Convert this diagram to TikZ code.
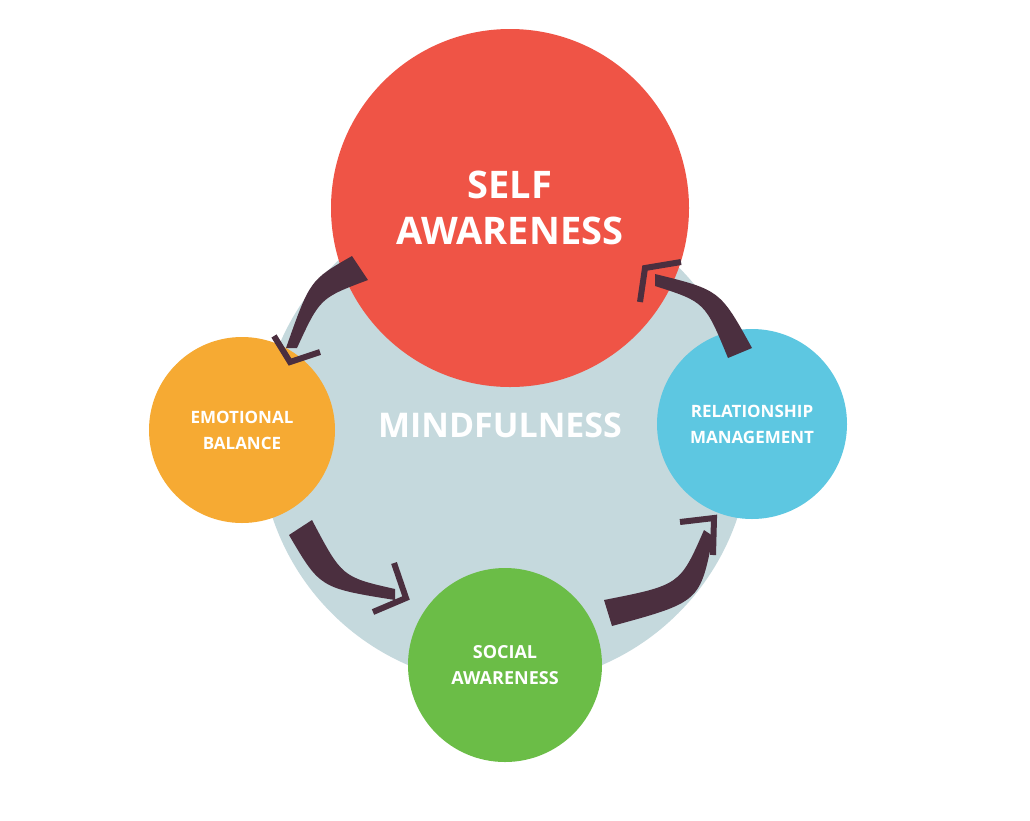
\documentclass[tikz,border=0pt]{standalone}
\usepackage{fontspec}
\setmainfont{Open Sans}
\definecolor{bg}{HTML}{C5D9DD}
\definecolor{cred}{HTML}{EF5446}
\definecolor{corange}{HTML}{F6AA33}
\definecolor{cblue}{HTML}{5DC7E1}
\definecolor{cgreen}{HTML}{6BBD47}
\definecolor{carrow}{HTML}{4B2F3F}
\begin{document}
\begin{tikzpicture}[x=1pt,y=-1pt,
  circ/.style={circle,inner sep=0pt,text=white,font=\bfseries,align=center},
  body/.style={fill=carrow,draw=none},
  chev/.style={draw=carrow,line width=6pt,line join=miter}]
\useasboundingbox (0,0) rectangle (1030,820);
\fill[white] (0,0) rectangle (1030,820);
\node[circ,fill=bg,minimum size=490pt] (mind) at (505,440) {};
\node[circ,fill=cred,minimum size=358pt,font=\bfseries\fontsize{38}{46}\selectfont] (self) at (510,208) {SELF\\AWARENESS};
\node[circ,fill=corange,minimum size=186pt,font=\bfseries\fontsize{17}{26}\selectfont] (emo) at (242,430) {EMOTIONAL\\BALANCE};
\node[circ,fill=cblue,minimum size=190pt,font=\bfseries\fontsize{17}{26}\selectfont] (rel) at (752,424) {RELATIONSHIP\\MANAGEMENT};
\node[circ,fill=cgreen,minimum size=194pt,font=\bfseries\fontsize{18}{26}\selectfont] (soc) at (505,665) {SOCIAL\\AWARENESS};
\node[text=white,font=\bfseries\fontsize{34}{40}\selectfont] (mtxt) at (500,425) {MINDFULNESS};
% arrow self -> emotional
\fill[body] (352,256) .. controls (310,280) .. (286,348) -- (297,348) .. controls (320,298) .. (368,280) -- cycle;
\draw[chev] (274,336) -- (290,362) -- (320,352);
% arrow emotional -> social
\fill[body] (289,535) .. controls (320,588) .. (395,600) -- (395,589) .. controls (342,577) .. (312,520) -- cycle;
\draw[chev] (394,563) -- (406,598) -- (373,612);
% arrow social -> relationship
\fill[body] (604,600) .. controls (680,585) .. (704,530) -- (713,536) .. controls (700,602) .. (612,626) -- cycle;
\draw[chev] (680,522) -- (714,518) -- (713,555);
% arrow relationship -> self
\fill[body] (752,348) .. controls (720,290) .. (655,274) -- (655,286) .. controls (705,302) .. (728,358) -- cycle;
\draw[chev] (640,302) -- (645,268) -- (681,262);
\end{tikzpicture}
\end{document}
